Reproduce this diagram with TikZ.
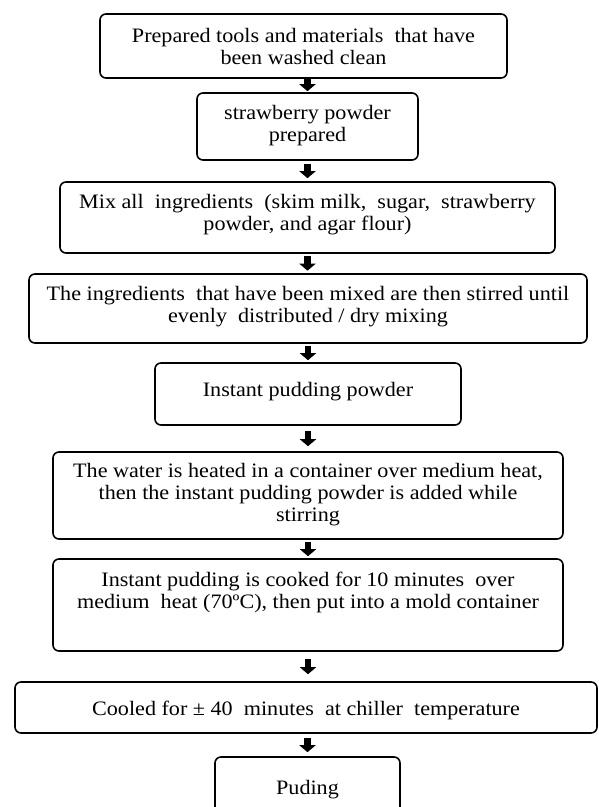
\documentclass[tikz,border=0pt]{standalone}
\usepackage{fontspec}
\setmainfont[FakeStretch=1.08]{Liberation Serif}
\usetikzlibrary{arrows.meta}
\tikzset{
  box/.style={draw=black, line width=1.6pt, rounded corners=6pt, fill=white, inner sep=0pt},
  txt/.style={align=center, inner sep=0pt, font=\fontsize{20.5}{22}\selectfont, text=black},
  flow/.style={line width=6.5pt, -{Triangle[width=16pt,length=7pt]}}
}
\begin{document}
\begin{tikzpicture}[x=1pt, y=-1pt]
\useasboundingbox (0,0) rectangle (599,807);
% boxes
\node[box, minimum width=407pt, minimum height=64pt] (b1) at (303.5,46) {};
\node[box, minimum width=221pt, minimum height=67pt] (b2) at (307.5,126.5) {};
\node[box, minimum width=495pt, minimum height=71pt] (b3) at (307.5,217.5) {};
\node[box, minimum width=558pt, minimum height=69pt] (b4) at (308,308.5) {};
\node[box, minimum width=306pt, minimum height=62pt] (b5) at (308,394) {};
\node[box, minimum width=510pt, minimum height=87pt] (b6) at (308,495.5) {};
\node[box, minimum width=510pt, minimum height=92pt] (b7) at (308,605) {};
\node[box, minimum width=582pt, minimum height=51pt] (b8) at (306,707.5) {};
\node[box, minimum width=185pt, minimum height=66pt] (b9) at (307.5,790) {};
% texts
\node[txt] (t1) at (303.5,46) {Prepared tools and materials\ \ that have\\been washed clean};
\node[txt] (t2) at (307.5,126) {strawberry powder\\prepared};
\node[txt] (t3) at (307.5,215) {Mix all\ \ ingredients\ \ (skim milk,\ \ sugar,\ \ strawberry\\powder, and agar flour)};
\node[txt] (t4) at (308,307) {The ingredients\ \ that have been mixed are then stirred until\\evenly\ \ distributed / dry mixing};
\node[txt] (t5) at (308,392) {Instant pudding powder};
\node[txt] (t6) at (308,495) {The water is heated in a container over medium heat,\\then the instant pudding powder is added while\\stirring};
\node[txt] (t7) at (308,592) {Instant pudding is cooked for 10 minutes\ \ over\\medium\ \ heat (70ºC), then put into a mold container};
\node[txt] (t8) at (306,710) {Cooled for ± 40\ \ minutes\ \ at chiller\ \ temperature};
\node[txt] (t9) at (307.5,790) {Puding};
% arrows
\draw[flow, shorten >=1pt] (b2.north |- b1.south) -- (b2.north);
\draw[flow, shorten <=3pt, shorten >=3pt] (b2.south) -- (b3.north);
\draw[flow, shorten <=2.5pt, shorten >=2.5pt] (b3.south) -- (b3.south |- b4.north);
\draw[flow, shorten <=2pt, shorten >=2pt] (b4.south -| b5.north) -- (b5.north);
\draw[flow, shorten <=5pt, shorten >=5pt] (b5.south) -- (b6.north);
\draw[flow, shorten <=2pt, shorten >=2pt] (b6.south) -- (b7.north);
\draw[flow, shorten <=7pt, shorten >=7pt] (b7.south) -- (b7.south |- b8.north);
\draw[flow, shorten <=4pt, shorten >=4pt] (b9.north |- b8.south) -- (b9.north);
\end{tikzpicture}
\end{document}
